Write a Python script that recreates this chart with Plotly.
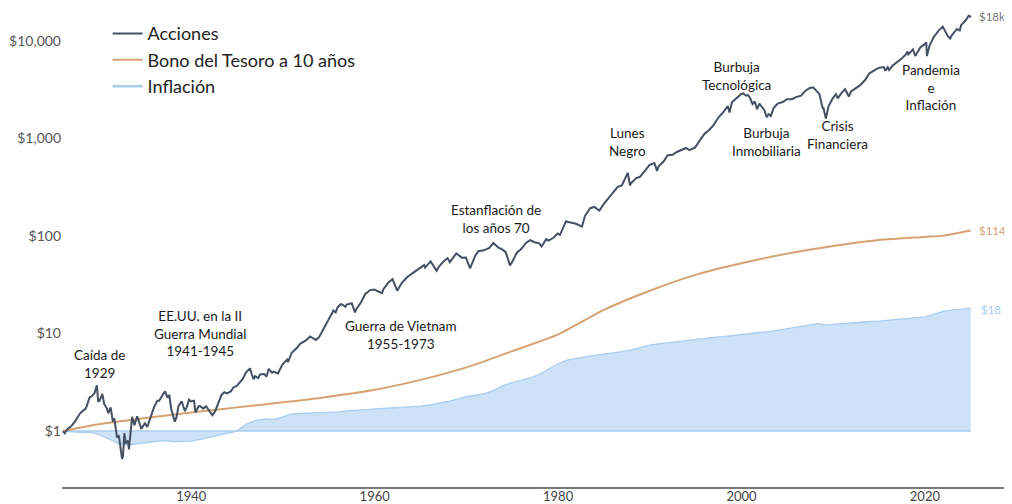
import numpy as np
import plotly.graph_objects as go

# ---------------- data ----------------
stock_years = [1926.0, 1926.2, 1926.5, 1926.9, 1927.3, 1927.6, 1927.9, 1928.2, 1928.5, 1928.9,
               1929.2, 1929.45, 1929.7, 1929.85, 1930.0, 1930.3, 1930.5, 1930.8, 1930.95,
               1931.2, 1931.45, 1931.6, 1931.9, 1932.1, 1932.45, 1932.55, 1932.7, 1932.85,
               1933.1, 1933.2, 1933.4, 1933.55, 1933.8, 1933.95, 1934.1, 1934.3, 1934.55, 1934.8,
               1934.95, 1935.2, 1935.5, 1935.8, 1935.95, 1936.3, 1936.5, 1936.9, 1937.15, 1937.4,
               1937.6, 1937.8, 1937.95, 1938.2, 1938.4, 1938.6, 1938.95, 1939.3, 1939.5, 1939.75,
               1939.95, 1940.3, 1940.45, 1940.8, 1940.95, 1941.3, 1941.6, 1941.95, 1942.3, 1942.6,
               1942.95, 1943.3, 1943.6, 1943.9, 1944.3, 1944.6, 1944.95, 1945.3, 1945.6, 1945.95,
               1946.4, 1946.6, 1946.8, 1946.95, 1947.3, 1947.5, 1947.95, 1948.2, 1948.45, 1948.8,
               1948.95, 1949.45, 1949.95, 1950.45, 1950.55, 1950.95, 1951.5, 1951.9, 1952.5,
               1952.95, 1953.6, 1953.95, 1954.5, 1954.95, 1955.5, 1955.75, 1955.95, 1956.3,
               1956.5, 1956.8, 1956.95, 1957.5, 1957.85, 1957.95, 1958.5, 1958.95, 1959.5,
               1959.95, 1960.4, 1960.8, 1960.95, 1961.5, 1961.95, 1962.45, 1962.95, 1963.5,
               1963.95, 1964.5, 1964.95, 1965.4, 1965.5, 1965.95, 1966.1, 1966.75, 1966.95,
               1967.5, 1967.95, 1968.2, 1968.9, 1969.5, 1969.95, 1970.4, 1970.95, 1971.3,
               1971.9, 1972.5, 1972.95, 1973.5, 1973.95, 1974.3, 1974.75, 1974.95, 1975.5,
               1975.95, 1976.5, 1976.95, 1977.5, 1977.95, 1978.2, 1978.7, 1978.95, 1979.5,
               1979.95, 1980.2, 1980.5, 1980.9, 1980.95, 1981.5, 1981.95, 1982.6, 1982.95,
               1983.5, 1983.95, 1984.5, 1984.95, 1985.5, 1985.95, 1986.5, 1986.95, 1987.6,
               1987.85, 1987.95, 1988.5, 1988.95, 1989.5, 1989.95, 1990.5, 1990.8, 1990.95,
               1991.5, 1991.95, 1992.5, 1992.95, 1993.5, 1993.95, 1994.3, 1994.95, 1995.5,
               1995.95, 1996.5, 1996.95, 1997.5, 1997.95, 1998.5, 1998.7, 1998.95, 1999.5,
               1999.95, 2000.2, 2000.5, 2000.7, 2000.95, 2001.2, 2001.45, 2001.7, 2001.95,
               2002.5, 2002.75, 2002.95, 2003.2, 2003.5, 2003.95, 2004.5, 2004.95, 2005.5,
               2005.95, 2006.5, 2006.95, 2007.45, 2007.8, 2007.95, 2008.5, 2008.85, 2008.95,
               2009.2, 2009.5, 2009.95, 2010.3, 2010.5, 2010.95, 2011.3, 2011.7, 2011.95,
               2012.5, 2012.95, 2013.5, 2013.95, 2014.5, 2014.95, 2015.5, 2015.7, 2015.95,
               2016.1, 2016.5, 2016.95, 2017.5, 2017.95, 2018.1, 2018.2, 2018.7, 2018.95,
               2019.5, 2019.95, 2020.15, 2020.22, 2020.5, 2020.95, 2021.5, 2021.95, 2022.5,
               2022.75, 2022.95, 2023.5, 2023.8, 2023.95, 2024.5, 2024.8, 2024.9, 2025.0]
stock_values = [1.00, 0.95, 1.05, 1.12, 1.25, 1.40, 1.53, 1.62, 1.70, 2.20,
                2.30, 2.45, 2.95, 2.00, 2.05, 2.40, 1.90, 1.70, 1.52,
                1.75, 1.25, 1.35, 0.86, 0.90, 0.52, 0.55, 0.95, 0.75,
                0.80, 0.65, 1.05, 1.40, 1.15, 1.25, 1.42, 1.25, 1.05, 1.15,
                1.20, 1.10, 1.35, 1.60, 1.77, 2.05, 2.05, 2.37, 2.55, 2.20,
                2.35, 1.70, 1.54, 1.25, 1.40, 1.80, 2.02, 1.60, 1.75, 2.10,
                2.01, 2.05, 1.55, 1.80, 1.81, 1.70, 1.80, 1.60, 1.45, 1.60,
                1.93, 2.35, 2.50, 2.43, 2.55, 2.80, 2.91, 3.20, 3.40, 3.97,
                4.40, 3.80, 3.40, 3.65, 3.50, 3.80, 3.85, 3.60, 4.35, 3.95,
                4.07, 3.90, 4.83, 5.40, 5.10, 6.36, 7.10, 7.89, 8.50,
                9.34, 8.60, 9.24, 11.5, 14.1, 17.2, 16.5, 18.6, 20.0,
                19.8, 18.8, 19.8, 20.5, 16.5, 17.6, 20.8, 25.3, 27.9,
                28.3, 27.0, 26.0, 28.5, 33.5, 36.1, 27.5, 33.0, 37.5,
                40.5, 44.5, 47.1, 50.5, 47.5, 53.0, 55.0, 44.0, 47.7,
                55.0, 59.1, 54.0, 66.5, 60.0, 60.1, 46.5, 62.5, 70.0,
                71.4, 75.5, 85.0, 76.0, 72.5, 68.0, 50.0, 53.3, 67.5,
                73.1, 85.0, 90.6, 86.0, 84.1, 78.0, 93.0, 89.6, 96.0,
                106.1, 103.0, 120.0, 144.0, 140.5, 138.0, 133.6, 125.0, 162.2,
                193.0, 198.7, 182.0, 211.2, 245.0, 279.1, 320.0, 330.7, 445.0,
                330.0, 348.0, 390.0, 406.5, 470.0, 534.5, 560.0, 465.0, 517.5,
                580.0, 675.6, 680.0, 727.4, 770.0, 800.1, 760.0, 810.5, 970.0,
                1114, 1230, 1371, 1650, 1828, 2150, 1850, 2351, 2630,
                2846, 2900, 2750, 2800, 2587, 2250, 2400, 2000, 2279,
                1950, 1650, 1775, 1700, 2050, 2285, 2370, 2533, 2530,
                2658, 2750, 3077, 3300, 3350, 3246, 2850, 2050, 2045,
                1600, 2150, 2587, 2850, 2580, 2976, 3200, 2700, 3039,
                3280, 3525, 4000, 4667, 5000, 5306, 5400, 4950, 5379,
                5050, 5600, 6023, 6650, 7338, 7800, 7300, 8200, 7016,
                8600, 9226, 9700, 7000, 8900, 10923, 12800, 14059, 11200,
                10600, 11513, 13300, 12800, 14539, 16500, 18400, 17600, 18200]

bond_years = [1926, 1930, 1935, 1940, 1945, 1950, 1955, 1960, 1965, 1970, 1975, 1980,
              1985, 1990, 1995, 2000, 2005, 2010, 2015, 2020, 2022, 2025]
bond_values = [1.0, 1.18, 1.36, 1.55, 1.75, 1.97, 2.25, 2.65, 3.35, 4.5, 6.6, 9.8,
               17.5, 27.5, 40.0, 52.5, 66.0, 79.0, 91.0, 98.0, 101.0, 114.0]

infl_years = [1926, 1927, 1928, 1929, 1930, 1931, 1932, 1933, 1934, 1935, 1936, 1937, 1938,
              1939, 1940, 1941, 1942, 1943, 1944, 1945, 1946, 1947, 1948, 1949, 1950, 1951,
              1952, 1953, 1954, 1955, 1956, 1957, 1958, 1959, 1960, 1961, 1962, 1963, 1964,
              1965, 1966, 1967, 1968, 1969, 1970, 1971, 1972, 1973, 1974, 1975, 1976, 1977,
              1978, 1979, 1980, 1981, 1982, 1983, 1984, 1985, 1986, 1987, 1988, 1989, 1990,
              1991, 1992, 1993, 1994, 1995, 1996, 1997, 1998, 1999, 2000, 2001, 2002, 2003,
              2004, 2005, 2006, 2007, 2008.5, 2009, 2010, 2011, 2012, 2013, 2014, 2015, 2016,
              2017, 2018, 2019, 2020, 2021, 2022, 2023, 2024, 2025]
infl_values = [1.00, 0.98, 0.97, 0.97, 0.92, 0.83, 0.75, 0.72, 0.74, 0.77, 0.78, 0.80, 0.78,
               0.78, 0.79, 0.82, 0.86, 0.90, 0.95, 1.00, 1.18, 1.28, 1.33, 1.32, 1.40, 1.50,
               1.52, 1.53, 1.53, 1.54, 1.57, 1.61, 1.64, 1.66, 1.69, 1.71, 1.73, 1.75, 1.77,
               1.80, 1.86, 1.92, 2.01, 2.13, 2.26, 2.33, 2.42, 2.62, 2.93, 3.14, 3.30, 3.52,
               3.84, 4.33, 4.90, 5.35, 5.60, 5.80, 5.97, 6.15, 6.25, 6.52, 6.82, 7.15, 7.60,
               7.82, 8.05, 8.27, 8.49, 8.71, 8.99, 9.15, 9.30, 9.55, 9.86, 10.0, 10.25, 10.45,
               10.8, 11.2, 11.5, 12.0, 12.7, 12.2, 12.4, 12.8, 13.0, 13.2, 13.3, 13.4, 13.7,
               14.0, 14.3, 14.6, 14.8, 15.8, 16.9, 17.4, 17.9, 18.2]
infl_base = [1.0] * len(infl_years)

y_tick_vals = [1, 10, 100, 1000, 10000]
y_tick_text = ["$1", "$10", "$100", "$1,000", "$10,000"]
x_tick_vals = [1940, 1960, 1980, 2000, 2020]

events = ["Caída de<br>1929", "EE.UU. en la II<br>Guerra Mundial<br>1941-1945",
          "Guerra de Vietnam<br>1955-1973", "Estanflación de<br>los años 70",
          "Lunes<br>Negro", "Burbuja<br>Tecnológica", "Burbuja<br>Inmobiliaria",
          "Crisis<br>Financiera", "Pandemia<br>e<br>Inflación"]
end_labels = ["$18k", "$114", "$18"]

# ---------------- styling / layout ----------------
C_STOCK = "#465063"
C_BOND = "#d6a271"
C_INFL = "#a8cdef"
FONT = "Lato"

event_pos = [(1930.0, 4.9), (1941.0, 10.1), (1962.9, 9.7), (1973.2, 149), (1987.6, 920),
             (1999.5, 4400), (2002.7, 920), (2010.5, 1090), (2020.7, 3300)]
end_pos = [(2025.7, 18000, "#777777"), (2025.7, 114, C_BOND), (2025.9, 17.8, C_INFL)]

fig = go.Figure()
fig.add_trace(go.Scatter(x=infl_years, y=infl_base, mode="lines",
                         line=dict(color=C_INFL, width=1.5), showlegend=False, hoverinfo="skip"))
fig.add_trace(go.Scatter(x=infl_years, y=infl_values, mode="lines", fill="tonexty",
                         fillcolor="rgba(165,203,240,0.55)",
                         line=dict(color=C_INFL, width=1.3), showlegend=False))
fig.add_trace(go.Scatter(x=bond_years, y=bond_values, mode="lines", name="Bono del Tesoro a 10 años",
                         line=dict(color=C_BOND, width=2, shape="spline", smoothing=0.7),
                         legendrank=2))
fig.add_trace(go.Scatter(x=stock_years, y=stock_values, mode="lines", name="Acciones",
                         line=dict(color=C_STOCK, width=2), legendrank=1))
fig.add_trace(go.Scatter(x=[None], y=[None], mode="lines", name="Inflación",
                         line=dict(color=C_INFL, width=2.5), legendrank=3))

annotations = []
for txt, (ax, ay) in zip(events, event_pos):
    annotations.append(dict(x=ax, y=np.log10(ay), xref="x", yref="y", text=txt,
                            showarrow=False, align="center",
                            font=dict(family=FONT, size=13.5, color="#1a1a1a")))
for txt, (ax, ay, col) in zip(end_labels, end_pos):
    annotations.append(dict(x=ax, y=np.log10(ay), xref="x", yref="y", text=txt,
                            showarrow=False, xanchor="left",
                            font=dict(family=FONT, size=11.5, color=col)))

# the page body adds an 8px offset, so the figure is 8px smaller and ranges compensate
fig.update_layout(
    width=1004, height=496,
    margin=dict(l=54, r=0, t=0, b=17, autoexpand=False),
    paper_bgcolor="white", plot_bgcolor="white",
    font=dict(family=FONT, color="#333"),
    showlegend=True,
    legend=dict(x=0.048, y=0.985, xanchor="left", yanchor="top",
                font=dict(family=FONT, size=18, color="#222"),
                bgcolor="rgba(0,0,0,0)", traceorder="normal"),
    annotations=annotations,
)
fig.update_xaxes(range=[1925.9, 2029.5], tickvals=x_tick_vals, showgrid=False, zeroline=False,
                 showline=True, linecolor="#7a7a7a", linewidth=1.5, ticks="",
                 ticklabelstandoff=-3,
                 tickfont=dict(family=FONT, size=13, color="#444"))
fig.update_yaxes(type="log", range=[np.log10(0.267), 423 / 97.5],
                 tickvals=y_tick_vals, ticktext=y_tick_text, showgrid=False, zeroline=False,
                 showline=False, ticks="", tickfont=dict(family=FONT, size=14, color="#555"))

fig.write_html("out.html")
